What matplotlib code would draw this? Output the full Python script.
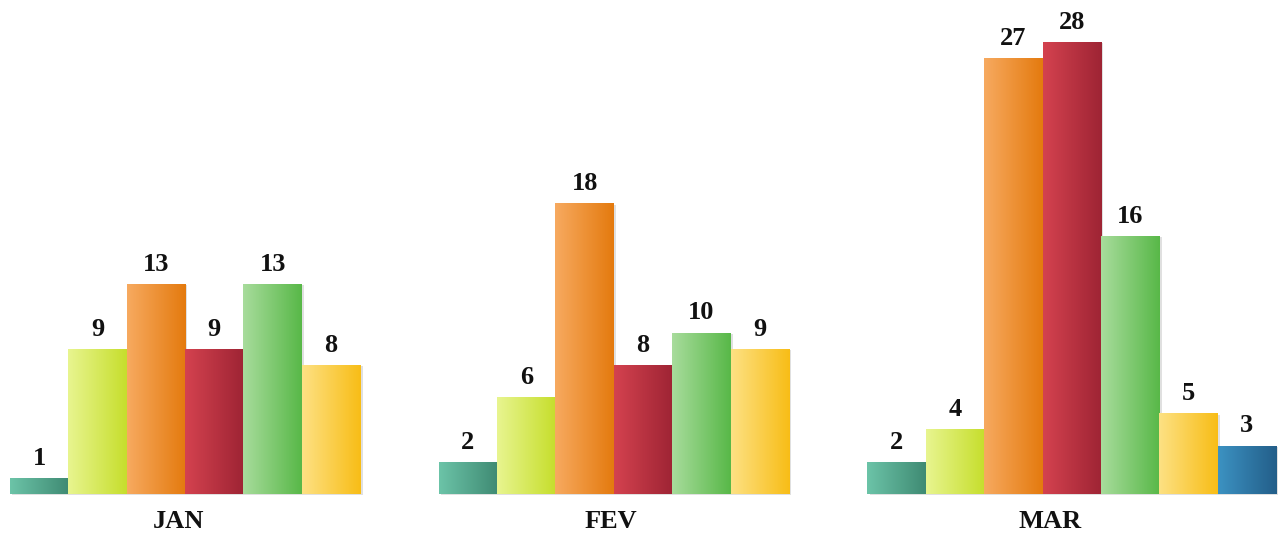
import numpy as np
import matplotlib
matplotlib.use("Agg")
import matplotlib.pyplot as plt
from matplotlib.colors import LinearSegmentedColormap

months = ["JAN", "FEV", "MAR"]
jan_values = [1, 9, 13, 9, 13, 8]
fev_values = [2, 6, 18, 8, 10, 9]
mar_values = [2, 4, 27, 28, 16, 5, 3]
groups = [jan_values, fev_values, mar_values]

# gradient colours (left light -> right dark) per series
series_colors = [
    ("#6cc4a8", "#3f8a73"),  # teal
    ("#e8f590", "#c6de2c"),  # lime
    ("#f7aa60", "#e47a0e"),  # orange
    ("#d4424f", "#9e2434"),  # red
    ("#a8dc9c", "#58b848"),  # green
    ("#fde184", "#f8bd16"),  # yellow
    ("#3c92c2", "#235e89"),  # blue
]

fig = plt.figure(figsize=(12.79, 5.40), dpi=100)
ax = fig.add_axes([0, 0, 1, 1])
ax.set_xlim(-0.171, 21.74)
ax.set_ylim(-2.85, 30.6)
ax.axis("off")

font = dict(family="Liberation Serif", weight="bold")
group_start = [0.0, 7.345, 14.69]
label_offset = [2.88, 2.95, 3.12]
grad = np.linspace(0, 1, 256).reshape(1, -1)

for gi, vals in enumerate(groups):
    x0 = group_start[gi]
    for i, v in enumerate(vals):
        left = x0 + i
        c1, c2 = series_colors[i]
        cmap = LinearSegmentedColormap.from_list("g", [c1, c2])
        # soft shadow
        ax.bar(left + 0.5 + 0.04, v, width=1.0, bottom=-0.08, align="center",
               color="black", alpha=0.12, zorder=1, linewidth=0)
        bar = ax.bar(left + 0.5, v, width=1.0, align="center",
                     color="none", linewidth=0, zorder=3)[0]
        im = ax.imshow(grad, cmap=cmap, aspect="auto",
                       extent=(left, left + 1, 0, v), zorder=2,
                       interpolation="bilinear")
        im.set_clip_path(bar)
        ax.text(left + 0.5, v + 0.5, str(v), ha="center", va="bottom",
                fontsize=19, color="#111111", **font)
    ax.text(x0 + label_offset[gi], -1.73, months[gi], ha="center", va="center",
            fontsize=19, color="#111111", **font)

fig.savefig("out.png", dpi=100)
